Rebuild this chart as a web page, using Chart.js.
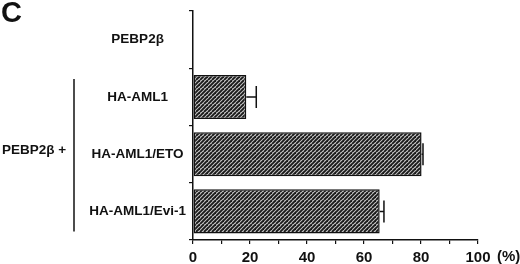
<!DOCTYPE html>
<html>
<head>
<meta charset="utf-8">
<script src="https://cdn.jsdelivr.net/npm/chart.js@4/dist/chart.umd.min.js"></script>
<style>
  html, body { margin: 0; padding: 0; background: #fff; }
  #wrap { width: 520px; height: 264px; position: relative; }
</style>
</head>
<body>
<div id="wrap"><canvas id="bars" width="520" height="264"></canvas></div>
<script>
// data
const categories = ["PEBP2\u03b2", "HA-AML1", "HA-AML1/ETO", "HA-AML1/Evi-1"];
const percents = [null, 18.7, 80.2, 65.5];
const errors = [null, 3.5, 0.5, 1.5];
const xTicks = [0, 20, 40, 60, 80, 100];

const FONT = "'Liberation Sans', Arial, sans-serif";

function hatch() {
  const c = document.createElement("canvas");
  c.width = 8;
  c.height = 8;
  const g = c.getContext("2d");
  g.fillStyle = "#c8c8c8";
  g.fillRect(0, 0, 8, 8);
  g.strokeStyle = "#1a1a1a";
  g.lineWidth = 1.9;
  for (let k = -8; k <= 16; k += 4) {
    g.beginPath();
    g.moveTo(k, 8);
    g.lineTo(k + 8, 0);
    g.stroke();
  }
  return g.createPattern(c, "repeat");
}

const errorBars = {
  id: "errorBars",
  afterDatasetsDraw(chart) {
    const ctx = chart.ctx;
    const x = chart.scales.x;
    const meta = chart.getDatasetMeta(0);
    ctx.save();
    ctx.strokeStyle = "#111";
    ctx.lineWidth = 1.5;
    meta.data.forEach((bar, i) => {
      if (percents[i] == null || errors[i] == null) return;
      const x0 = x.getPixelForValue(percents[i]);
      const x1 = x.getPixelForValue(percents[i] + errors[i]);
      const y = bar.y;
      ctx.beginPath();
      ctx.moveTo(x0, y);
      ctx.lineTo(x1, y);
      ctx.moveTo(x1, y - 11);
      ctx.lineTo(x1, y + 11);
      ctx.stroke();
    });
    ctx.restore();
  }
};

const extras = {
  id: "extras",
  afterDraw(chart) {
    const ctx = chart.ctx;
    const x = chart.scales.x;
    const y = chart.scales.y;
    ctx.save();
    ctx.fillStyle = "#111";
    ctx.textBaseline = "middle";
    ctx.font = "bold 29px " + FONT;
    ctx.textAlign = "left";
    ctx.fillText("C", 1, 14);

    ctx.font = "bold 15px " + FONT;
    ctx.fillText("(%)", x.getPixelForValue(100) + 19, 257);
    ctx.font = "bold 13.5px " + FONT;
    ctx.fillText("PEBP2\u03b2 +", 2, 150);

    // bracket grouping the three transfected rows
    ctx.strokeStyle = "#111";
    ctx.lineWidth = 1.5;
    ctx.beginPath();
    ctx.moveTo(74, y.getPixelForValue(1) - 18);
    ctx.lineTo(74, y.getPixelForValue(3) + 20);
    ctx.stroke();
    ctx.restore();
  }
};

new Chart(document.getElementById("bars"), {
  type: "bar",
  data: {
    labels: categories,
    datasets: [{
      data: percents,
      backgroundColor: hatch(),
      borderColor: "#111",
      borderWidth: 1.5,
      borderSkipped: false,
      barPercentage: 0.77,
      categoryPercentage: 1,
    }],
  },
  options: {
    indexAxis: "y",
    responsive: false,
    animation: false,
    layout: { padding: { left: 0, right: 42, top: 2, bottom: 0 } },
    plugins: { legend: { display: false }, tooltip: { enabled: false } },
    scales: {
      x: {
        min: 0,
        max: 100,
        afterFit(s) { s.height = 24; },
        afterBuildTicks(s) {
          s.ticks = [];
          for (let v = 0; v <= 100; v += 10) s.ticks.push({ value: v });
        },
        border: { color: "#111", width: 1.5 },
        grid: { drawOnChartArea: false, drawTicks: true, tickLength: 4, color: "#111", lineWidth: 1.2 },
        ticks: {
          padding: 5,
          color: "#111",
          font: { family: FONT, size: 15, weight: "bold" },
          autoSkip: false,
          maxRotation: 0,
          callback: (v) => (xTicks.includes(v) ? String(v) : ""),
        },
      },
      y: {
        afterFit(s) { s.width = 193; },
        border: { color: "#111", width: 1.5 },
        grid: { drawOnChartArea: false, drawTicks: true, tickLength: 4, color: "#111", lineWidth: 1.2 },
        ticks: {
          padding: 3,
          crossAlign: "center",
          color: "#111",
          font: { family: FONT, size: 13.5, weight: "bold" },
        },
      },
    },
  },
  plugins: [errorBars, extras],
});
</script>
</body>
</html>
